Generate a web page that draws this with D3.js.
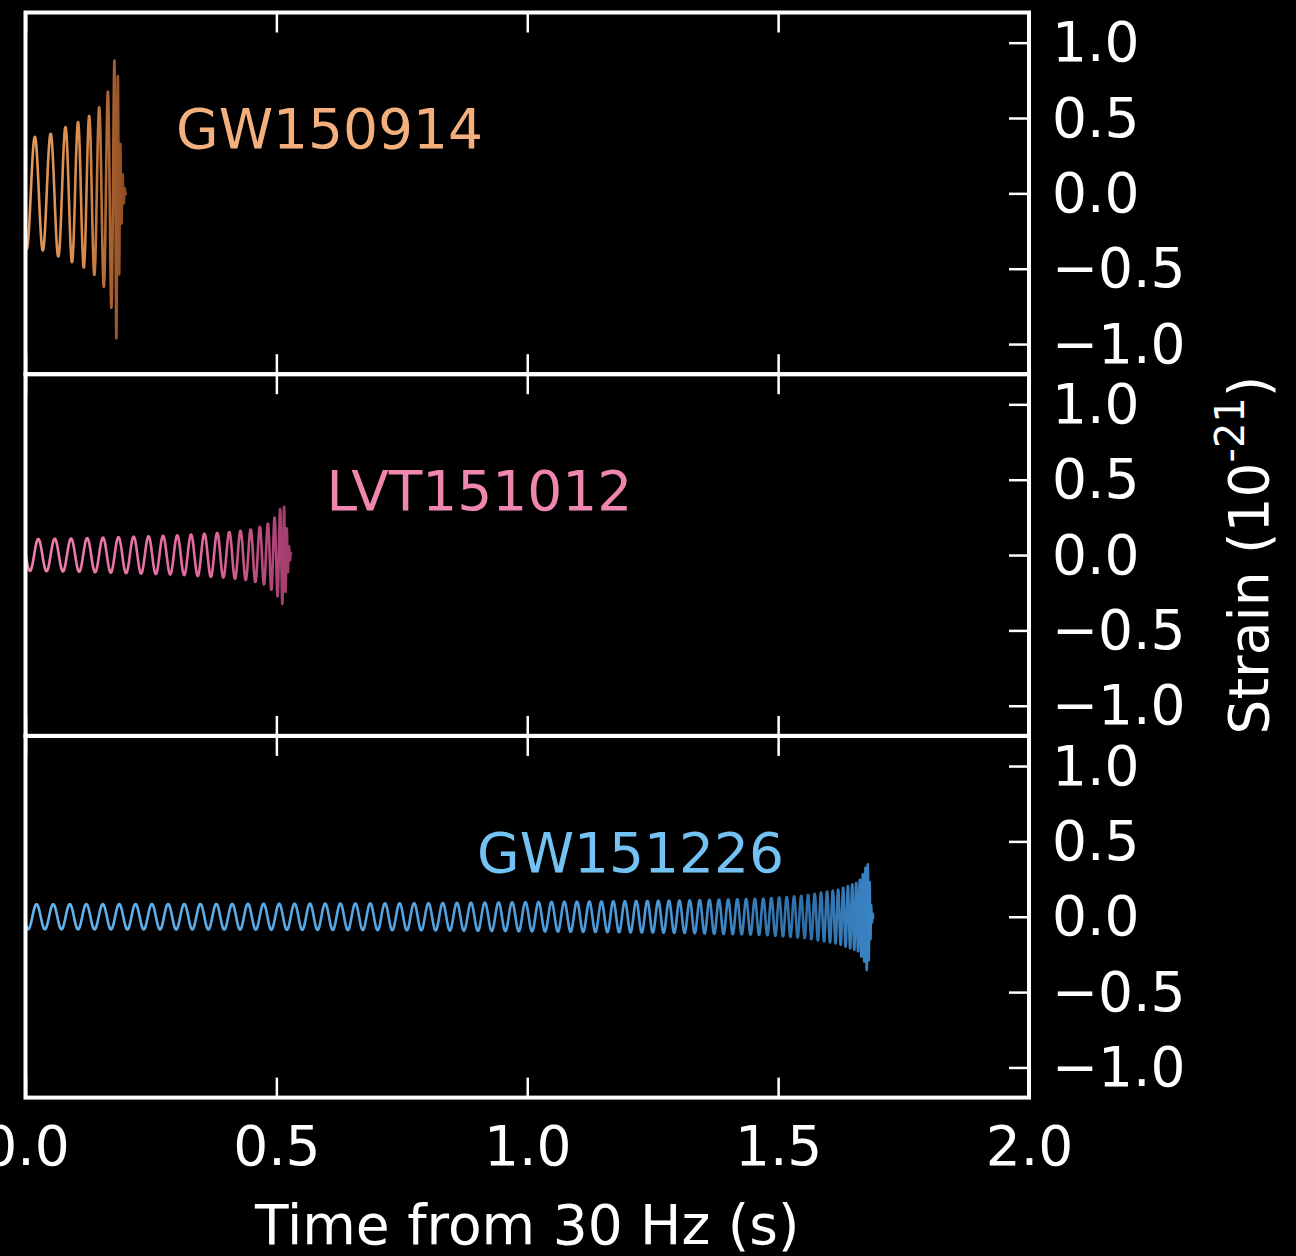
<!DOCTYPE html>
<html>
<head>
<meta charset="utf-8">
<script src="https://cdn.jsdelivr.net/npm/d3@7"></script>
<style>
  html, body { margin: 0; padding: 0; background: #000; }
  svg { display: block; }
</style>
</head>
<body>
<svg id="chart" width="1296" height="1256"></svg>
<script>
// ---------------- data ----------------
const eventNames = ["GW150914", "LVT151012", "GW151226"];
const xTickValues = [0, 0.5, 1.0, 1.5, 2.0];
const yTickValues = [-1.0, -0.5, 0.0, 0.5, 1.0];

// gravitational-wave frequency track: [time (s), frequency (Hz)]
const gw150914Freq = [[0,30],[0.035,32],[0.065,33],[0.092,40],[0.116,45],[0.137,50],[0.156,56],[0.168,72],[0.175,82],[0.18,135],[0.186,200],[0.2,250]];
const lvt151012Freq = [[0,30],[0.1,31],[0.2,33],[0.28,35],[0.33,37],[0.37,39],[0.40,42],[0.43,47],[0.46,55],[0.48,65],[0.5,85],[0.51,110],[0.52,200],[0.53,300]];
const gw151226Freq = [[0,30],[0.3,31],[0.6,33],[0.9,36],[1.1,40],[1.3,48],[1.45,58],[1.55,72],[1.6,85],[1.64,110],[1.66,140],[1.675,200],[1.69,400]];

// strain envelope: [time (s), amplitude (1e-21)]
const gw150914Amp = [[0,0.37],[0.04,0.38],[0.08,0.44],[0.11,0.48],[0.13,0.52],[0.15,0.58],[0.165,0.68],[0.172,0.77],[0.178,0.9],[0.182,0.98],[0.186,0.6],[0.19,0.25],[0.195,0.08],[0.2,0]];
const lvt151012Amp = [[0,0.105],[0.1,0.11],[0.2,0.12],[0.3,0.13],[0.35,0.14],[0.4,0.15],[0.45,0.17],[0.48,0.2],[0.5,0.26],[0.51,0.32],[0.515,0.33],[0.52,0.2],[0.525,0.06],[0.53,0]];
const gw151226Amp = [[0,0.083],[0.4,0.085],[0.8,0.09],[1.1,0.1],[1.3,0.107],[1.47,0.12],[1.55,0.14],[1.62,0.18],[1.66,0.23],[1.672,0.3],[1.678,0.37],[1.682,0.25],[1.686,0.05],[1.69,0]];

// starting phase of each waveform (rad)
const startPhase = [-2.0, -3.24, -2.58];
// label anchor positions in data units [time, strain]
const labelPos = [[0.3, 0.3], [0.6, 0.3], [0.9, 0.3]];

// ---------------- styling ----------------
const labelColors = ["#f4b07c", "#ee86b0", "#74c2f4"];
// line colour along the waveform: [fraction of duration, colour]
const lineStops = [
  [[0, "#e49a5e"], [0.6, "#d88a4c"], [1, "#8c4a22"]],
  [[0, "#f080b0"], [0.7, "#e0689c"], [1, "#a03c6c"]],
  [[0, "#64b4ee"], [0.75, "#4a98d8"], [0.92, "#2e6ea8"], [1, "#3a84c4"]]
];
const FONT = "DejaVu Sans, sans-serif";
const FS = 55;

const svg = d3.select("#chart");
svg.append("rect").attr("width", 1296).attr("height", 1256).attr("fill", "#000");

const left = 25.5, right = 1029, top0 = 12.5, panelH = 361.7;

const x = d3.scaleLinear().domain([0, 2]).range([left, right]);

const defs = svg.append("defs");
defs.append("filter").attr("id", "soft")
  .attr("x", "-5%").attr("y", "-5%").attr("width", "110%").attr("height", "110%")
  .append("feGaussianBlur").attr("stdDeviation", 0.7);

const freqs = [gw150914Freq, lvt151012Freq, gw151226Freq];
const amps  = [gw150914Amp, lvt151012Amp, gw151226Amp];

function buildWave(freqTable, ampTable, phi0) {
  const fS = d3.scaleLinear().domain(freqTable.map(d => d[0])).range(freqTable.map(d => d[1])).clamp(true);
  const aS = d3.scaleLinear().domain(ampTable.map(d => d[0])).range(ampTable.map(d => d[1])).clamp(true);
  const tEnd = ampTable[ampTable.length - 1][0];
  const dt = 0.0001;
  const pts = [];
  let phi = phi0;
  for (let i = 0; i * dt <= tEnd + 1e-9; i++) {
    const t = i * dt;
    pts.push([t, aS(t) * Math.sin(phi)]);
    phi += 2 * Math.PI * fS(t) * dt;
  }
  return pts;
}

eventNames.forEach((name, i) => {
  const pTop = top0 + i * panelH;
  const y = d3.scaleLinear().domain([-1.2, 1.2]).range([pTop + panelH, pTop]);
  const g = svg.append("g");

  defs.append("clipPath").attr("id", "clip" + i)
    .append("rect").attr("x", left).attr("y", pTop).attr("width", right - left).attr("height", panelH);

  const tEnd = amps[i][amps[i].length - 1][0];
  const grad = defs.append("linearGradient").attr("id", "grad" + i)
    .attr("gradientUnits", "userSpaceOnUse")
    .attr("x1", x(0)).attr("x2", x(tEnd)).attr("y1", 0).attr("y2", 0);
  lineStops[i].forEach(s => grad.append("stop").attr("offset", s[0]).attr("stop-color", s[1]));

  // waveform
  const pts = buildWave(freqs[i], amps[i], startPhase[i]);
  g.append("path")
    .attr("clip-path", `url(#clip${i})`)
    .attr("d", d3.line().x(d => x(d[0])).y(d => y(d[1]))(pts))
    .attr("fill", "none")
    .attr("stroke", `url(#grad${i})`)
    .attr("stroke-width", 2.6)
    .attr("stroke-linejoin", "round")
    .attr("filter", "url(#soft)");

  // event label
  g.append("text")
    .attr("x", x(labelPos[i][0])).attr("y", y(labelPos[i][1]))
    .attr("fill", labelColors[i])
    .attr("font-family", FONT).attr("font-size", FS)
    .text(name);

  // right y axis: ticks inward, labels outside
  const yAxis = d3.axisRight(y).tickValues(yTickValues).tickSize(-20).tickPadding(23)
    .tickFormat(d3.format(".1f"));
  const ya = g.append("g").attr("transform", `translate(${right},0)`).call(yAxis);
  ya.select(".domain").remove();
  ya.selectAll(".tick line").attr("stroke", "#fff").attr("stroke-width", 2.5);
  ya.selectAll(".tick text").attr("fill", "#fff").attr("font-family", FONT).attr("font-size", FS)
    .attr("y", 0).attr("dy", "0.33em");

  // top ticks (inward)
  const xt = g.append("g").attr("transform", `translate(0,${pTop})`)
    .call(d3.axisTop(x).tickValues(xTickValues).tickSize(-20).tickFormat(""));
  xt.select(".domain").remove();
  xt.selectAll(".tick line").attr("stroke", "#fff").attr("stroke-width", 2.5);

  // bottom ticks (inward); labels only on the last panel
  const xb = g.append("g").attr("transform", `translate(0,${pTop + panelH})`)
    .call(d3.axisBottom(x).tickValues(xTickValues).tickSize(-20).tickPadding(28)
      .tickFormat(i === eventNames.length - 1 ? d3.format(".1f") : ""));
  xb.select(".domain").remove();
  xb.selectAll(".tick line").attr("stroke", "#fff").attr("stroke-width", 2.5);
  xb.selectAll(".tick text").attr("fill", "#fff").attr("font-family", FONT).attr("font-size", FS);

  // spines
  g.append("rect").attr("x", left).attr("y", pTop).attr("width", right - left).attr("height", panelH)
    .attr("fill", "none").attr("stroke", "#fff").attr("stroke-width", 4);
});

// axis titles
svg.append("text")
  .attr("x", (left + right) / 2).attr("y", 1244)
  .attr("text-anchor", "middle")
  .attr("fill", "#fff").attr("font-family", FONT).attr("font-size", FS)
  .text("Time from 30 Hz (s)");

const yl = svg.append("text")
  .attr("transform", `translate(1268,${top0 + 1.5 * panelH}) rotate(-90)`)
  .attr("text-anchor", "middle")
  .attr("fill", "#fff").attr("font-family", FONT).attr("font-size", FS);
yl.append("tspan").text("Strain (10");
yl.append("tspan").attr("font-size", 40).attr("dy", -24).text("-21");
yl.append("tspan").attr("dy", 24).text(")");
</script>
</body>
</html>
